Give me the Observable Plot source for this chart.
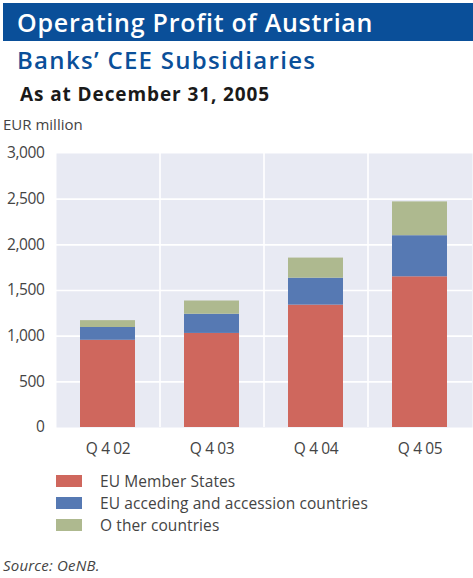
<!DOCTYPE html>
<html>
<head>
<meta charset="utf-8">
<script src="https://cdn.jsdelivr.net/npm/d3@7"></script>
<script src="https://cdn.jsdelivr.net/npm/@observablehq/plot@0.6"></script>
<style>
  html, body { margin: 0; padding: 0; background: #fff; }
  body { width: 473px; height: 578px; position: relative; overflow: hidden; font-family: "Open Sans", "DejaVu Sans", sans-serif; }
  .abs { position: absolute; white-space: nowrap; }
  #band { left: 3px; top: 3px; width: 470px; height: 38px; background: #0a4f99; }
  #title { left: 17px; top: 3px; font-size: 25px; line-height: 38px; color: #fff; font-weight: 600; letter-spacing: 0.75px; }
  #subtitle { left: 17px; top: 43px; font-size: 24px; line-height: 34px; color: #0a4f99; font-weight: 600; letter-spacing: 1.3px; }
  #date { left: 20px; top: 80px; font-size: 19px; line-height: 28px; color: #1a1a1a; font-weight: 700; letter-spacing: 0.9px; }
  #unit { left: 3px; top: 114px; font-size: 15px; line-height: 20px; color: #444; z-index: 2; }
  #chart { left: 0; top: 130px; }
  .leg { left: 56px; width: 26px; height: 12px; }
  .legt { left: 100px; font-size: 15.5px; line-height: 20px; color: #444; letter-spacing: 0.1px; }
  #source { left: 3px; top: 555px; font-size: 15px; line-height: 20px; color: #444; font-style: italic; letter-spacing: 0.2px; }
</style>
</head>
<body>
<div id="band" class="abs"></div>
<div id="title" class="abs">Operating Profit of Austrian</div>
<div id="subtitle" class="abs">Banks’ CEE Subsidiaries</div>
<div id="date" class="abs">As at December 31, 2005</div>
<div id="chart" class="abs"></div>
<div id="unit" class="abs">EUR million</div>
<div id="legend"></div>
<div id="source" class="abs">Source: OeNB.</div>
<script>
const categories = ["Q 4 02", "Q 4 03", "Q 4 04", "Q 4 05"];
const seriesNames = ["EU Member States", "EU acceding and accession countries", "Other countries"];
const legendLabels = ["EU  Member States", "EU  acceding and accession countries", "O ther countries"];
const euMember = [955, 1030, 1340, 1650];
const euAcceding = [140, 210, 295, 450];
const otherCountries = [75, 145, 220, 370];
const yTicks = [0, 500, 1000, 1500, 2000, 2500, 3000];
const colors = ["#cf675d", "#5679b3", "#aeb98f"];

const seriesValues = [euMember, euAcceding, otherCountries];
const data = [];
seriesNames.forEach((s, si) => {
  categories.forEach((c, ci) => {
    data.push({ category: c, series: s, value: seriesValues[si][ci] });
  });
});

const W = 473, H = 330;
const mL = 56, mR = 1, mT = 23, mB = 33;
const step = (W - mL - mR) / categories.length;

const chart = Plot.plot({
  width: W,
  height: H,
  marginLeft: mL,
  marginRight: mR,
  marginTop: mT,
  marginBottom: mB,
  style: { fontFamily: "'Open Sans', 'DejaVu Sans', sans-serif", background: "transparent", overflow: "visible" },
  x: { domain: categories, paddingInner: 0.47, paddingOuter: 0.235, label: null },
  y: { domain: [0, 3000], label: null },
  color: { domain: seriesNames, range: colors },
  marks: [
    Plot.frame({ fill: "#e8eaf3", stroke: null }),
    Plot.ruleY(yTicks.filter(d => d > 0 && d < 3000), { stroke: "#fff", strokeWidth: 1.6 }),
    Plot.ruleX(categories.slice(1), { x: d => d, dx: -step / 2, stroke: "#fff", strokeWidth: 1.6 }),
    Plot.barY(data, { x: "category", y: "value", fill: "series", order: seriesNames }),
    Plot.axisY({ ticks: yTicks, tickFormat: d3.format(","), tickSize: 0, tickPadding: 12, fontSize: 15.5, fill: "#444", label: null }),
    Plot.axisX({ tickSize: 0, tickPadding: 15, fontSize: 15.5, fill: "#444", label: null })
  ]
});
document.getElementById("chart").appendChild(chart);
chart.querySelectorAll("text").forEach(t => t.setAttribute("letter-spacing", "-0.4"));

const legend = document.getElementById("legend");
const legTops = [475, 497, 519];
seriesNames.forEach((s, i) => {
  const sw = document.createElement("div");
  sw.className = "abs leg";
  sw.style.top = legTops[i] + "px";
  sw.style.background = colors[i];
  legend.appendChild(sw);
  const t = document.createElement("div");
  t.className = "abs legt";
  t.style.top = (legTops[i] - 4) + "px";
  t.textContent = legendLabels[i];
  legend.appendChild(t);
});
</script>
</body>
</html>
